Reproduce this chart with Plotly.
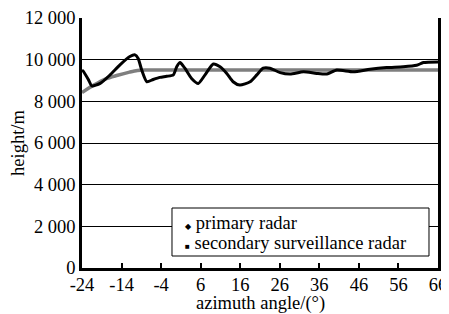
import plotly.graph_objects as go

# Primary radar track (azimuth deg, height m)
primary_az = [-24, -23.7, -22.4, -21.5, -19.4, -16.9, -14.4, -11.9, -10.6, -9.8, -8.9, -7.6,
              -6.0, -4.3, -2.6, -0.9, -0.06, 0.8, 2.0, 3.7, 5.4, 7.1, 9.2, 10.9, 12.6,
              14.2, 15.9, 18.5, 20.2, 21.8, 23.5, 26.1, 28.6, 32.0, 35.3, 37.9, 40.4,
              44.6, 48.8, 53.0, 57.2, 60.6, 62.3, 66]
primary_h = [9500, 9450, 9050, 8740, 8860, 9270, 9750, 10150, 10230, 10060, 9500, 8940,
             9050, 9150, 9200, 9270, 9660, 9860, 9590, 9100, 8860, 9270, 9790, 9660, 9340,
             8940, 8780, 8940, 9270, 9590, 9590, 9380, 9310, 9420, 9340, 9310, 9500,
             9420, 9540, 9620, 9660, 9730, 9860, 9890]

# Secondary surveillance radar track
secondary_az = [-24, -21, -18, -15, -12, -10, -8, 0, 20, 40, 66]
secondary_h = [8420, 8780, 9080, 9250, 9400, 9480, 9500, 9500, 9500, 9500, 9500]

y_ticks = [0, 2000, 4000, 6000, 8000, 10000, 12000]
y_labels = ["0", "2 000", "4 000", "6 000", "8 000", "10 000", "12 000"]
x_ticks = [-24, -14, -4, 6, 16, 26, 36, 46, 56, 66]
x_labels = ["-24", "-14", "-4", "6", "16", "26", "36", "46", "56", "66"]

series_names = ["primary radar", "secondary surveillance radar"]
x_title = "azimuth angle/(°)"
y_title = "height/m"

FONT = "Times New Roman, Liberation Serif, Tinos, DejaVu Serif, serif"
FS = 18.5

fig = go.Figure()
fig.add_trace(go.Scatter(x=secondary_az, y=secondary_h, mode="lines", name=series_names[1],
                         line=dict(color="#7f7f7f", width=3.5, shape="spline", smoothing=0.8),
                         showlegend=False, hoverinfo="skip"))
fig.add_trace(go.Scatter(x=primary_az, y=primary_h, mode="lines", name=series_names[0],
                         line=dict(color="black", width=3, shape="spline", smoothing=0.6),
                         showlegend=False, hoverinfo="skip"))

# legend box
fig.add_shape(type="rect", xref="paper", yref="paper", x0=0.2528, x1=0.9747, y0=0.048, y1=0.24,
              line=dict(color="black", width=1), fillcolor="white", layer="above")
fig.add_annotation(xref="paper", yref="paper", x=0.283, y=0.181, xanchor="left", yanchor="middle",
                   showarrow=False, font=dict(family=FONT, size=FS),
                   text="<span style='font-size:8px'>◆</span> " + series_names[0])
fig.add_annotation(xref="paper", yref="paper", x=0.283, y=0.099, xanchor="left", yanchor="middle",
                   showarrow=False, font=dict(family=FONT, size=FS),
                   text="<span style='font-size:8px'>■</span> " + series_names[1])
# axis titles
fig.add_annotation(xref="paper", yref="paper", x=0.5, y=-0.14, xanchor="center", yanchor="middle",
                   showarrow=False, font=dict(family=FONT, size=FS), text=x_title)
fig.add_annotation(xref="paper", yref="paper", x=-0.18, y=0.5, xanchor="center", yanchor="middle",
                   textangle=-90, showarrow=False, font=dict(family=FONT, size=FS), text=y_title)

# page body has an 8px margin, so the figure is 8px smaller than the window
fig.update_layout(
    width=441, height=306,
    margin=dict(l=74, r=11, t=10, b=46),
    paper_bgcolor="white", plot_bgcolor="white",
    font=dict(family=FONT, size=FS, color="black"),
    showlegend=False,
)
fig.update_xaxes(range=[-24, 66], tickvals=x_ticks, ticktext=x_labels, ticks="inside",
                 ticklen=5, tickwidth=2, tickcolor="black", showgrid=False, zeroline=False,
                 showline=True, linecolor="black", linewidth=2.5, automargin=False,
                 ticklabelstandoff=-2, ticklabeloverflow="allow",
                 tickfont=dict(family=FONT, size=FS))
fig.update_yaxes(range=[0, 12000], tickvals=y_ticks, ticktext=y_labels, ticks="",
                 showgrid=True, gridcolor="black", gridwidth=1, zeroline=False,
                 showline=True, linecolor="black", linewidth=2.5, mirror=True,
                 automargin=False, ticklabeloverflow="allow",
                 tickfont=dict(family=FONT, size=FS))

fig.write_html("out.html")
